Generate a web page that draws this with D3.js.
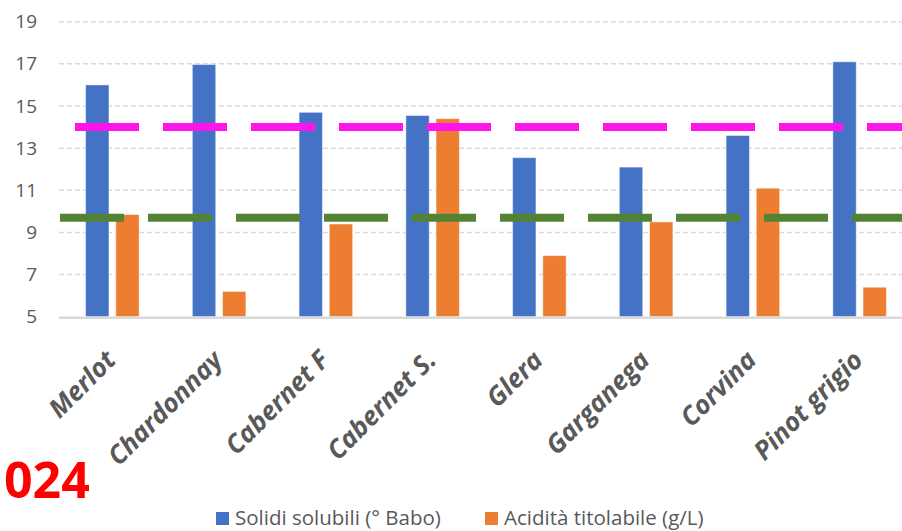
<!DOCTYPE html>
<html><head><meta charset="utf-8">
<script src="https://cdn.jsdelivr.net/npm/d3@7"></script>
<style>
html,body{margin:0;padding:0;background:#fff;}
svg{display:block;}
</style></head>
<body>
<svg id="chart" width="902" height="531"></svg>
<script>
const categories = ["Merlot","Chardonnay","Cabernet F","Cabernet S.","Glera","Garganega","Corvina","Pinot grigio"];
const seriesNames = ["Solidi solubili (° Babo)","Acidità titolabile (g/L)"];
const solidiSolubili = [16.0, 16.97, 14.7, 14.55, 12.55, 12.1, 13.6, 17.1];
const aciditaTitolabile = [9.85, 6.2, 9.4, 14.4, 7.9, 9.5, 11.1, 6.4];
const yTicks = [5,7,9,11,13,15,17,19];
const refMagenta = 14;
const refGreen = 9.7;
const badge = "024";

const colors = ["#4472C4","#ED7D31"];
const svg = d3.select("#chart");
const plotLeft = 59, plotRight = 913, plotTop = 21.7, plotBottom = 316.7;

const x = d3.scaleBand().domain(categories).range([plotLeft, plotRight]).paddingInner(0).paddingOuter(0);
const x1 = d3.scaleBand().domain(seriesNames).range([x.bandwidth()*0.249, x.bandwidth()*0.751]).paddingInner(0.225).paddingOuter(0);
const y = d3.scaleLinear().domain([5,19]).range([plotBottom, plotTop]);

// gridlines
svg.append("g").selectAll("line").data(yTicks.filter(t=>t!==5)).join("line")
  .attr("x1", plotLeft).attr("x2", plotRight)
  .attr("y1", d=>y(d)).attr("y2", d=>y(d))
  .attr("stroke","#D9D9D9").attr("stroke-width",1.5).attr("stroke-dasharray","5 3");

// y axis labels
const yAxis = d3.axisLeft(y).tickValues(yTicks).tickSize(0).tickPadding(0);
const gy = svg.append("g").attr("transform","translate(37,0)").call(yAxis);
gy.select(".domain").remove();
gy.selectAll("text").attr("fill","#595959").attr("font-family","'Open Sans', sans-serif").attr("font-size","19px");

// bars
const data = categories.map((c,i)=>({cat:c, vals:[solidiSolubili[i], aciditaTitolabile[i]]}));
const groups = svg.append("g").selectAll("g").data(data).join("g")
  .attr("transform", d=>`translate(${x(d.cat)},0)`);
groups.selectAll("rect").data(d=>d.vals.map((v,j)=>({v, s:seriesNames[j], j}))).join("rect")
  .attr("x", d=>x1(d.s)).attr("width", x1.bandwidth())
  .attr("y", d=>y(d.v)).attr("height", d=>y(5)-y(d.v))
  .attr("fill", d=>colors[d.j])
  .attr("stroke","#ffffff").attr("stroke-opacity",0.5).attr("stroke-width",1);

// baseline axis
svg.append("line").attr("x1",plotLeft).attr("x2",plotRight).attr("y1",y(5)+1).attr("y2",y(5)+1)
  .attr("stroke","#D9D9D9").attr("stroke-width",2.5);

// reference dashed lines
svg.append("line").attr("x1",plotLeft+1).attr("x2",plotRight).attr("y1",y(refMagenta)).attr("y2",y(refMagenta))
  .attr("stroke","#FF14EC").attr("stroke-width",8).attr("stroke-dasharray","64 24").attr("stroke-dashoffset",73);
svg.append("line").attr("x1",plotLeft+1).attr("x2",plotRight).attr("y1",y(refGreen)).attr("y2",y(refGreen))
  .attr("stroke","#548235").attr("stroke-width",8).attr("stroke-dasharray","64 24").attr("stroke-dashoffset",0);

// category labels
svg.append("g").selectAll("text").data(categories).join("text")
  .attr("transform", d=>`translate(${x(d)+x.bandwidth()/2+5},${plotBottom+45}) rotate(-45)`)
  .attr("text-anchor","end")
  .attr("font-family","'Open Sans', sans-serif").attr("font-weight","bold").attr("font-style","italic")
  .attr("font-size","26px").attr("fill","#595959")
  .text(d=>d);

// badge
svg.append("text").attr("x",4).attr("y",498).attr("font-family","'Open Sans', sans-serif")
  .attr("font-weight","bold").attr("font-size","50px").attr("fill","#FF0000").text(badge);

// legend
const legendX = [216, 485];
const lg = svg.append("g").selectAll("g").data(seriesNames).join("g")
  .attr("transform",(d,i)=>`translate(${legendX[i]},0)`);
lg.append("rect").attr("x",0).attr("y",512).attr("width",13).attr("height",13).attr("fill",(d,i)=>colors[i]);
lg.append("text").attr("x",19).attr("y",525).attr("font-family","'Open Sans', sans-serif")
  .attr("font-size","20.5px").attr("fill","#595959").text(d=>d);
</script>
</body></html>
